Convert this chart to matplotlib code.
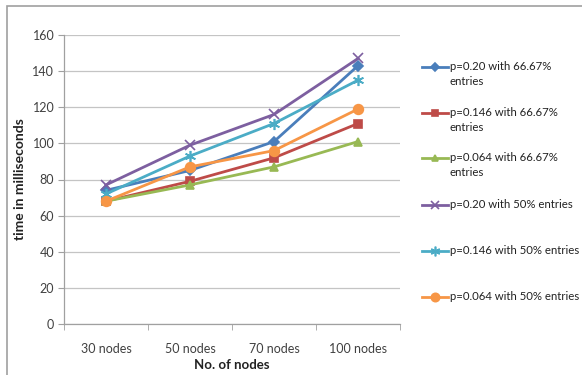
import matplotlib
matplotlib.use("Agg")
import matplotlib.pyplot as plt
from matplotlib.lines import Line2D
from matplotlib.patches import Rectangle

plt.rcParams["font.family"] = ["Lato", "DejaVu Sans"]

categories = ["30 nodes", "50 nodes", "70 nodes", "100 nodes"]

p20_667 = [74, 85, 101, 143]
p146_667 = [68, 79, 92, 111]
p064_667 = [68, 77, 87, 101]
p20_50 = [77, 99, 116, 147]
p146_50 = [72, 93, 111, 135]
p064_50 = [68, 87, 96, 119]

series = [
    ("p=0.20 with 66.67%\nentries", p20_667, "#4A7EBB", "D", 5),
    ("p=0.146 with 66.67%\nentries", p146_667, "#BE4B48", "s", 6),
    ("p=0.064 with 66.67%\nentries", p064_667, "#98B954", "^", 6),
    ("p=0.20 with 50% entries", p20_50, "#7D5FA0", "x", 7),
    ("p=0.146 with 50% entries", p146_50, "#4BACC6", (6, 2, 0), 8),
    ("p=0.064 with 50% entries", p064_50, "#F79646", "o", 7),
]

fig = plt.figure(figsize=(5.82, 3.75), dpi=100)
ax = fig.add_axes([64 / 582, 51 / 375, 336 / 582, 289 / 375])

x = list(range(len(categories)))
for label, vals, color, marker, ms in series:
    ax.plot(x, vals, color=color, lw=2.0, marker=marker, ms=ms,
            mec=color, mfc=color, mew=1.2, clip_on=False, zorder=3)

ax.set_xlim(-0.5, len(categories) - 0.5)
ax.set_ylim(0, 160)
ax.set_yticks(range(0, 161, 20))
ax.set_xticks(x)
ax.set_xticklabels(categories)
ax.set_xticks([i - 0.5 for i in range(len(categories) + 1)], minor=True)
ax.tick_params(axis="x", which="major", length=0, pad=14, labelsize=9,
               colors="#404040")
ax.tick_params(axis="x", which="minor", length=4, color="#a0a0a0")
ax.tick_params(axis="y", length=4, color="#a0a0a0", labelsize=9,
               labelcolor="#404040", pad=3)
ax.grid(axis="y", color="#c4c4c4", lw=0.9)
ax.set_axisbelow(True)
for side in ("top", "right"):
    ax.spines[side].set_visible(False)
for side in ("left", "bottom"):
    ax.spines[side].set_color("#a0a0a0")
    ax.spines[side].set_linewidth(0.9)

ax.set_ylabel("time in milliseconds", fontsize=10, fontweight="bold",
              color="#222222")
ax.yaxis.set_label_coords(-0.114, 0.5)
ax.set_xlabel("No. of nodes", fontsize=9.5, fontweight="bold",
              color="#222222")
ax.xaxis.set_label_coords(0.5, -0.12)

# legend on the right, handle level with the first text line
ys = [67, 113, 158, 205, 251, 297]
for (label, vals, color, marker, ms), yp in zip(series, ys):
    yf = 1 - yp / 375
    fig.add_artist(Line2D([422 / 582, 448 / 582], [yf, yf], color=color,
                          lw=2.0, transform=fig.transFigure))
    fig.add_artist(Line2D([435 / 582], [yf], color=color, marker=marker,
                          ms=ms - 1, mec=color, mfc=color, mew=1.2,
                          transform=fig.transFigure))
    fig.text(450 / 582, yf + 6 / 375, label, fontsize=8.2, color="#222222",
             va="top", ha="left", linespacing=1.45)

# chart border
fig.add_artist(Rectangle((6.5 / 582, -0.1), 1.2, 1 - 5.5 / 375 + 0.1,
                         transform=fig.transFigure, fill=False,
                         edgecolor="#a0a0a0", lw=1.2))

fig.savefig("out.png", dpi=100)
